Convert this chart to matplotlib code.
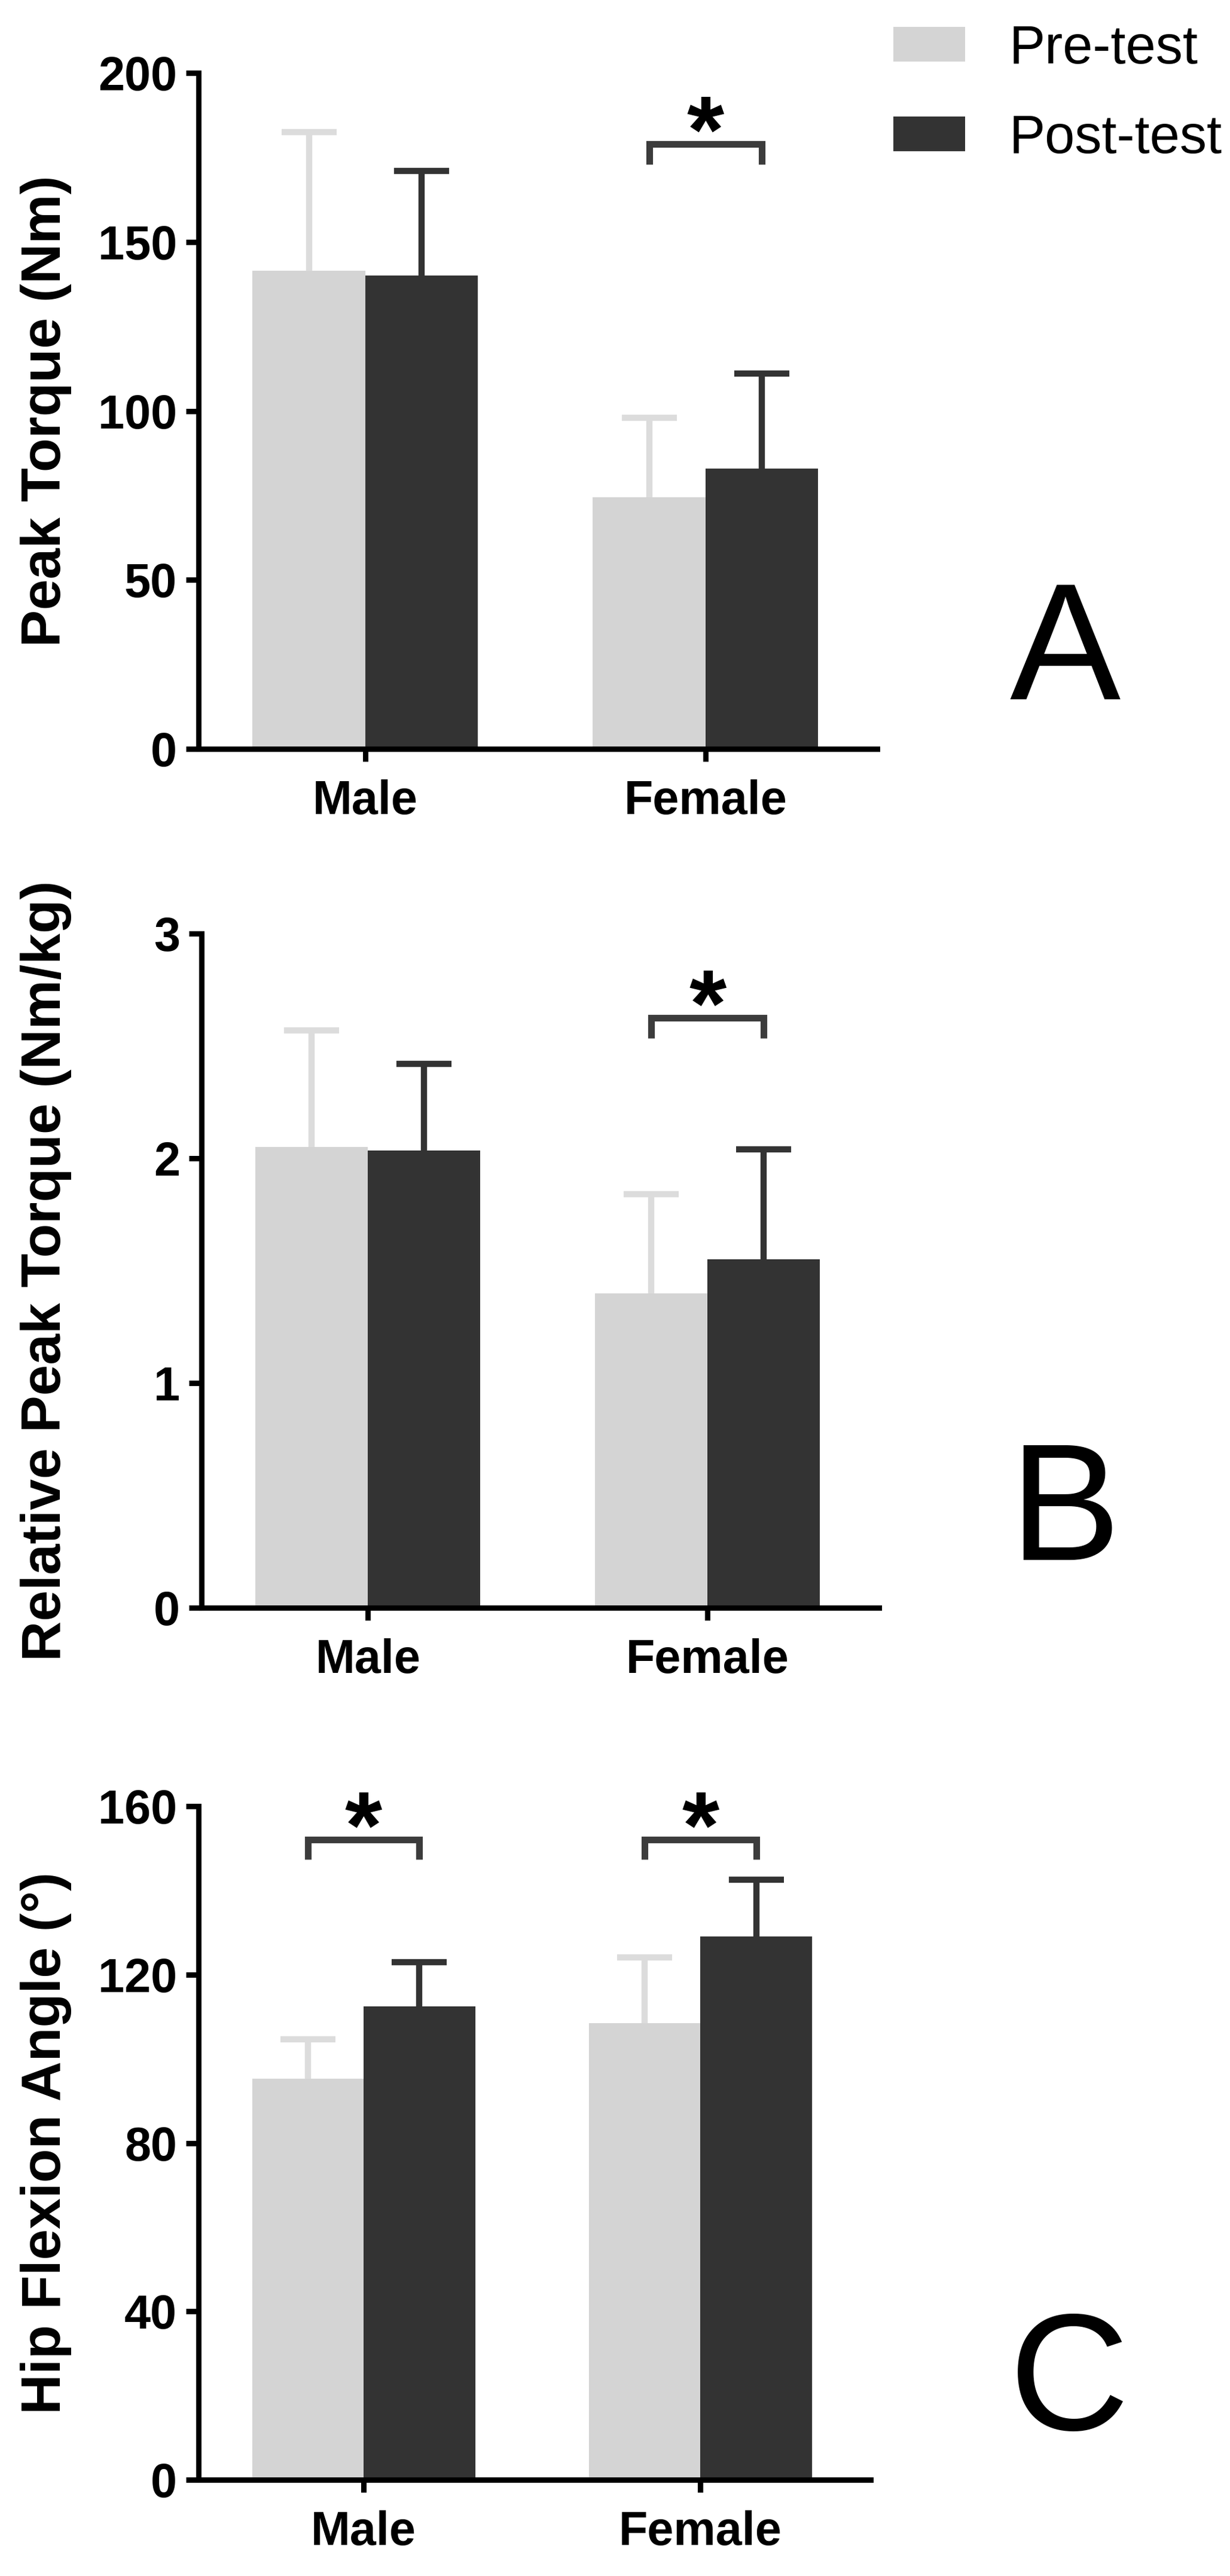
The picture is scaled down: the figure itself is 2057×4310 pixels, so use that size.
import numpy as np
import matplotlib
matplotlib.use('Agg')
import matplotlib.pyplot as plt

plt.rcParams['font.family'] = ['Liberation Sans', 'DejaVu Sans']

groups = ['Male', 'Female']
series = ['Pre-test', 'Post-test']

# peak torque (Nm)
torque_pre = [141.5, 74.5]
torque_pre_sd = [41.0, 23.5]
torque_post = [140.0, 83.0]
torque_post_sd = [31.0, 28.0]

# relative peak torque (Nm/kg)
rel_pre = [2.05, 1.40]
rel_pre_sd = [0.52, 0.44]
rel_post = [2.035, 1.55]
rel_post_sd = [0.385, 0.49]

# hip flexion angle (deg)
hip_pre = [95.2, 108.4]
hip_pre_sd = [9.4, 15.7]
hip_post = [112.5, 129.0]
hip_post_sd = [10.4, 13.6]

# significant pre/post differences: (group index, bracket level, leg drop)
torque_sig = [(1, 179.0, 6.0)]
rel_sig = [(1, 2.625, 0.09)]
hip_sig = [(0, 152.1, 4.8), (1, 152.1, 4.8)]

PRE = '#d4d4d4'
PRE_ERR = '#dcdcdc'
POST = '#333333'
BRACKET = '#3c3c3c'

W, H = 2057, 4310


def px_axes(left, right, top, bottom):
    return [left / W, 1 - bottom / H, (right - left) / W, (bottom - top) / H]


def upper_err(ax, xs, vals, sds, color):
    # one-sided (upward) error bars, no cap at the bar top
    _, caps, _ = ax.errorbar(xs, vals, yerr=[np.zeros(len(xs)), sds], fmt='none',
                             ecolor=color, elinewidth=7.5, capsize=33,
                             capthick=7.5, zorder=1)
    for c in caps:
        if np.allclose(c.get_ydata(), vals):
            c.set_visible(False)


def panel(ax, pre, pre_sd, post, post_sd, yticks, ylabel, sig, labelx):
    x = np.arange(len(groups))
    w = 0.331
    b1 = ax.bar(x - w / 2, pre, w, color=PRE, zorder=2, label=series[0])
    b2 = ax.bar(x + w / 2, post, w, color=POST, zorder=2, label=series[1])
    upper_err(ax, x - w / 2, pre, pre_sd, PRE_ERR)
    upper_err(ax, x + w / 2, post, post_sd, POST)

    for gi, level, drop in sig:
        x0, x1 = gi - w / 2, gi + w / 2
        ax.plot([x0, x0, x1, x1], [level - drop, level, level, level - drop],
                color=BRACKET, lw=8, solid_capstyle='butt',
                solid_joinstyle='miter', clip_on=False)
        ax.annotate('*', xy=(gi, level), xytext=(0, -22), textcoords='offset points',
                    ha='center', va='baseline', fontsize=115, fontweight='bold',
                    annotation_clip=False)

    ax.set_xlim(-0.49, 1.505)
    ax.set_ylim(yticks[0], yticks[-1])
    ax.set_yticks(yticks)
    ax.set_xticks(x)
    ax.set_xticklabels(groups)
    for s in ['top', 'right']:
        ax.spines[s].set_visible(False)
    for s in ['left', 'bottom']:
        ax.spines[s].set_linewidth(6.5)
    ax.tick_params(axis='both', width=6.5, length=15, labelsize=57)
    ax.tick_params(axis='y', pad=11)
    ax.tick_params(axis='x', pad=22)
    for lbl in ax.get_xticklabels() + ax.get_yticklabels():
        lbl.set_fontweight('bold')
    ax.set_ylabel(ylabel, fontsize=67, fontweight='bold')
    ax.yaxis.set_label_coords(labelx, 0.5)
    return b1, b2


fig = plt.figure(figsize=(W / 100, H / 100), dpi=100)

axA = fig.add_axes(px_axes(332, 1467, 122, 1253))
bars = panel(axA, torque_pre, torque_pre_sd, torque_post, torque_post_sd,
             [0, 50, 100, 150, 200], 'Peak Torque (Nm)', torque_sig, -0.187)

axB = fig.add_axes(px_axes(337, 1470, 1562, 2690))
panel(axB, rel_pre, rel_pre_sd, rel_post, rel_post_sd,
      [0, 1, 2, 3], 'Relative Peak Torque (Nm/kg)', rel_sig, -0.1915)

axC = fig.add_axes(px_axes(332, 1456, 3022, 4149))
panel(axC, hip_pre, hip_pre_sd, hip_post, hip_post_sd,
      [0, 40, 80, 120, 160], 'Hip Flexion Angle (°)', hip_sig, -0.1886)

fig.legend(bars, series, loc='upper left', bbox_to_anchor=(1494 / W, 1 - 40 / H),
           frameon=False, fontsize=65, handlelength=1.33, handleheight=0.62,
           handletextpad=0.82, labelspacing=0.72, borderpad=0, borderaxespad=0)

for letter, base in zip(['A', 'B', 'C'], [1170, 2610, 4065]):
    fig.text(1688 / W, 1 - base / H, letter, fontsize=200, ha='left', va='baseline')

fig.savefig('out.png', dpi=100, facecolor='white')
